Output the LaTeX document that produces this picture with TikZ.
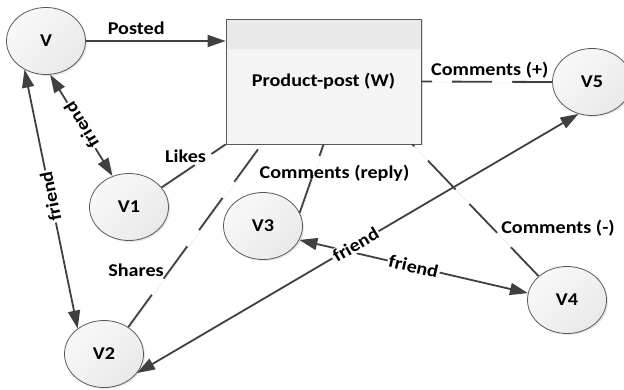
\documentclass[tikz,border=0pt]{standalone}
\usepackage{fontspec}
\setmainfont{Carlito}[FakeStretch=1.12]
\usetikzlibrary{arrows.meta,shapes.geometric,shadows,calc}

\definecolor{edgegray}{HTML}{404040}
\definecolor{rimgray}{HTML}{5A5A5A}

\begin{document}
\begin{tikzpicture}[x=1pt,y=-1pt,
  font=\fontsize{18pt}{20pt}\selectfont\bfseries,
  user/.style={ellipse, draw=rimgray, line width=0.8pt,
    minimum width=79pt, minimum height=67pt,
    left color=gray!5, right color=gray!17, shading angle=45,
    drop shadow={opacity=0.2, shadow xshift=1.5pt, shadow yshift=-1.5pt, fill=gray}},
  postbox/.style={rectangle, draw=gray!70!black, line width=0.8pt, fill=gray!9,
    minimum width=195pt, minimum height=125pt,
    drop shadow={opacity=0.25, shadow xshift=1.5pt, shadow yshift=-1.5pt, fill=gray},
    path picture={\fill[gray!17] (path picture bounding box.north west)
      rectangle ([yshift=-30pt]path picture bounding box.north east);}},
  rel/.style={draw=edgegray, line width=1.8pt},
  dashrel/.style={rel, dash pattern=on 40pt off 20pt,
    preaction={draw=gray!22, solid, transform canvas={shift={(1.2pt,-1.2pt)}}}},
  onearrow/.style={rel, -{Triangle[length=18pt,width=12pt]}},
  twoarrow/.style={rel, {Triangle[length=18pt,width=12pt]}-{Triangle[length=18pt,width=12pt]}},
  lbl/.style={inner sep=2pt},
  flbl/.style={fill=white, inner sep=1.5pt, sloped, allow upside down}]

\useasboundingbox (0,0) rectangle (624,390);

% users and the post
\node[user] (V)  at (46,41)   {V};
\node[user] (V1) at (129,207) {V1};
\node[user] (V2) at (104,354) {V2};
\node[user] (V3) at (263,226) {V3};
\node[user] (V4) at (567,300) {V4};
\node[user] (V5) at (592,82)  {V5};
\node[postbox] (W) at (323.5,81.5) {Product-post (W)};

% interactions with the post
\draw[dashrel] (V1.31) -- node[lbl, pos=0.5, xshift=-8pt, yshift=10pt] {Likes} (W.south west);
\draw[dashrel] (V2.48) -- node[lbl, pos=0.31, left=3pt] {Shares} ([xshift=36pt]W.south west);
\draw[dashrel] (V3.20) -- node[lbl, pos=0.58, xshift=21pt] {Comments (reply)} (W.south);
\draw[dashrel] (V5.west) -- node[lbl, midway, xshift=3pt, yshift=12pt] {Comments (+)} (W.east);
\draw[dashrel] (V4.140) -- node[lbl, pos=0.366, right=6pt] {Comments (-)} ([xshift=-9pt]W.south east);

% posting
\draw[onearrow] (V) -- node[lbl, pos=0.36, above=3pt] {Posted} (V -| W.west);

% friendships
\draw[twoarrow] (V1.118) -- node[flbl] {friend} (V.-83);
\draw[twoarrow] (V2.136) -- node[flbl, pos=0.51] {friend} (V.-127);
\draw[twoarrow] (V3.-21) -- node[flbl] {friend} (V4.170);
\draw[twoarrow] (V2.-30) -- node[flbl, pos=0.495] {friend} (V5.-113);
\end{tikzpicture}
\end{document}
